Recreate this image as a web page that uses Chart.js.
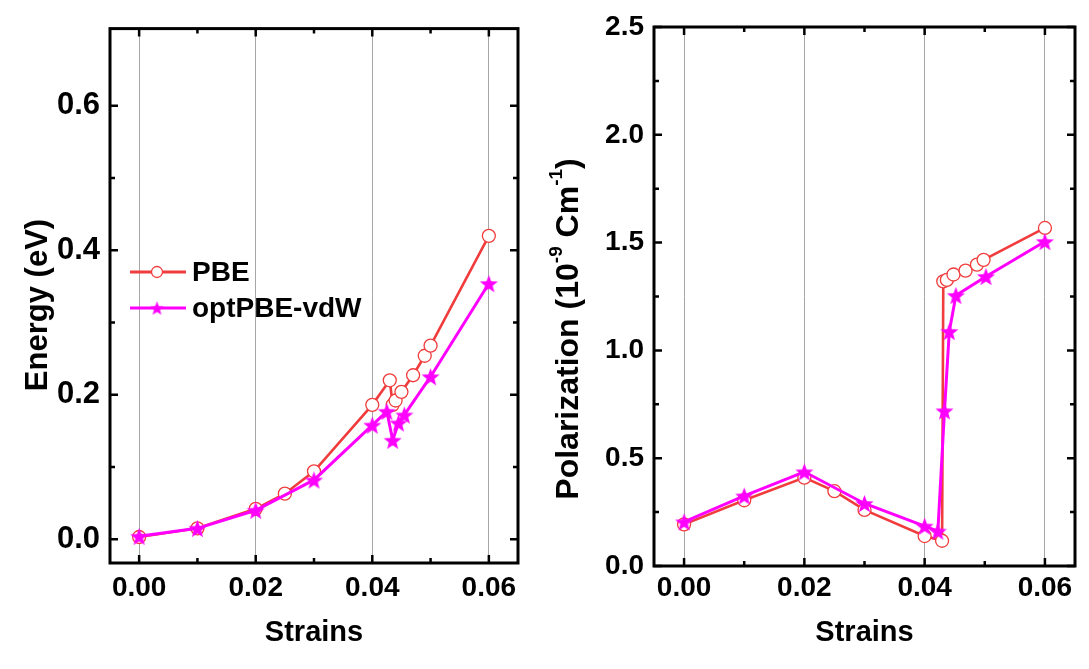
<!DOCTYPE html>
<html>
<head>
<meta charset="utf-8">
<script src="https://cdn.jsdelivr.net/npm/chart.js@4.4.1/dist/chart.umd.min.js"></script>
<style>
  html, body { margin: 0; padding: 0; background: #fff; }
  #wrap { position: relative; width: 1089px; height: 669px; overflow: hidden; }
  canvas { position: absolute; top: 0; }
  #energy { left: 0; }
  #polar { left: 540px; }
</style>
</head>
<body>
<div id="wrap">
  <canvas id="energy" width="540" height="669"></canvas>
  <canvas id="polar" width="549" height="669"></canvas>
</div>
<script>
// ---- data ----
const seriesNames = ['PBE', 'optPBE-vdW'];

const energyPbeStrain = [0, 0.01, 0.02, 0.025, 0.03, 0.04, 0.043, 0.0435, 0.044, 0.045, 0.047, 0.049, 0.05, 0.06];
const energyPbe       = [0.003, 0.015, 0.042, 0.063, 0.094, 0.186, 0.220, 0.186, 0.192, 0.204, 0.227, 0.254, 0.268, 0.420];
const energyVdwStrain = [0, 0.01, 0.02, 0.03, 0.04, 0.0425, 0.0435, 0.0445, 0.0455, 0.05, 0.06];
const energyVdw       = [0.004, 0.015, 0.040, 0.082, 0.158, 0.177, 0.137, 0.161, 0.172, 0.225, 0.354];

const polPbeStrain = [0, 0.01, 0.02, 0.025, 0.03, 0.04, 0.0429, 0.0431, 0.0437, 0.0448, 0.0468, 0.0487, 0.0498, 0.06];
const polPbe       = [0.193, 0.305, 0.410, 0.347, 0.260, 0.139, 0.117, 1.320, 1.327, 1.352, 1.370, 1.398, 1.420, 1.568];
const polVdwStrain = [0, 0.01, 0.02, 0.03, 0.04, 0.0422, 0.0433, 0.0441, 0.0452, 0.0502, 0.06];
const polVdw       = [0.205, 0.325, 0.437, 0.290, 0.185, 0.162, 0.720, 1.088, 1.255, 1.343, 1.505];

const xTickValues = [0, 0.01, 0.02, 0.03, 0.04, 0.05, 0.06];
const energyTickValues = [0, 0.1, 0.2, 0.3, 0.4, 0.5, 0.6];
const polTickValues = [0, 0.25, 0.5, 0.75, 1.0, 1.25, 1.5, 1.75, 2.0, 2.25, 2.5];

const RED = '#f03c3c';
const MAGENTA = '#ff00ff';
const FONT = "'Liberation Sans', Arial, sans-serif";

function points(xs, ys) {
  return xs.map((x, i) => ({ x: x, y: ys[i] }));
}

function makeStar(r, color) {
  const c = document.createElement('canvas');
  const s = Math.ceil(r * 2 + 2);
  c.width = s; c.height = s;
  const ctx = c.getContext('2d');
  ctx.translate(s / 2, s / 2 + r * 0.1);
  ctx.beginPath();
  for (let i = 0; i < 10; i++) {
    const rad = i % 2 === 0 ? r : r * 0.42;
    const a = -Math.PI / 2 + i * Math.PI / 5;
    ctx.lineTo(rad * Math.cos(a), rad * Math.sin(a));
  }
  ctx.closePath();
  ctx.fillStyle = color;
  ctx.fill();
  return c;
}

const star = makeStar(9.5, MAGENTA);
const smallStar = makeStar(7.5, MAGENTA);

function isMajor(v, per) {
  return Math.round(v * per) % 2 === 0;
}

// frame with inward ticks on all four sides
const framePlugin = {
  id: 'frame',
  afterDraw(chart, args, opts) {
    const { ctx, chartArea: a } = chart;
    const xs = chart.scales.x, ys = chart.scales.y;
    ctx.save();
    ctx.strokeStyle = '#000';
    ctx.lineWidth = 2.5;
    xs.ticks.forEach(t => {
      const px = xs.getPixelForValue(t.value);
      const len = isMajor(t.value, 100) ? 8 : 5;
      ctx.beginPath();
      ctx.moveTo(px, a.bottom); ctx.lineTo(px, a.bottom - len);
      ctx.moveTo(px, a.top); ctx.lineTo(px, a.top + len);
      ctx.stroke();
    });
    ys.ticks.forEach(t => {
      const py = ys.getPixelForValue(t.value);
      const len = isMajor(t.value, opts.yPer) ? 8 : 5;
      ctx.beginPath();
      ctx.moveTo(a.left, py); ctx.lineTo(a.left + len, py);
      ctx.moveTo(a.right, py); ctx.lineTo(a.right - len, py);
      ctx.stroke();
    });
    ctx.lineWidth = 3;
    ctx.strokeRect(a.left, a.top, a.right - a.left, a.bottom - a.top);
    ctx.restore();
  }
};

// rotated y title with optional superscripts
const yTitlePlugin = {
  id: 'yTitle',
  afterDraw(chart, args, opts) {
    const ctx = chart.ctx;
    ctx.save();
    ctx.translate(opts.x, opts.y);
    ctx.rotate(-Math.PI / 2);
    ctx.fillStyle = '#000';
    ctx.textBaseline = 'middle';
    ctx.textAlign = 'left';
    const main = 'bold ' + opts.size + 'px ' + FONT;
    const sup = 'bold ' + Math.round(opts.size * 0.58) + 'px ' + FONT;
    let total = 0;
    opts.parts.forEach(p => { ctx.font = p.sup ? sup : main; total += ctx.measureText(p.t).width; });
    let x = -total / 2;
    opts.parts.forEach(p => {
      ctx.font = p.sup ? sup : main;
      ctx.fillText(p.t, x, p.sup ? -opts.size * 0.38 : 0);
      x += ctx.measureText(p.t).width;
    });
    ctx.restore();
  }
};

// legend inside the energy panel: line + marker + label
const legendPlugin = {
  id: 'lineLegend',
  afterDraw(chart, args, opts) {
    if (!opts.show) return;
    const ctx = chart.ctx;
    ctx.save();
    const rows = [
      { y: 272, color: RED, name: seriesNames[0], marker: 'circle' },
      { y: 308, color: MAGENTA, name: seriesNames[1], marker: 'star' }
    ];
    rows.forEach(r => {
      ctx.strokeStyle = r.color;
      ctx.lineWidth = 3;
      ctx.beginPath();
      ctx.moveTo(130, r.y); ctx.lineTo(186, r.y);
      ctx.stroke();
      if (r.marker === 'circle') {
        ctx.beginPath();
        ctx.arc(157, r.y, 5.5, 0, Math.PI * 2);
        ctx.fillStyle = '#fff';
        ctx.fill();
        ctx.lineWidth = 1.3;
        ctx.stroke();
      } else {
        ctx.drawImage(smallStar, 157 - smallStar.width / 2, r.y - smallStar.height / 2);
      }
      ctx.fillStyle = '#000';
      ctx.font = 'bold 28px ' + FONT;
      ctx.textBaseline = 'middle';
      ctx.fillText(r.name, 192, r.y + 1);
    });
    ctx.restore();
  }
};

function buildChart(id, pbe, vdw, yMin, yMax, yTicks, yPer, yWidth, xHeight, rightPad, title, showLegend, xTickPad, yFont) {
  return new Chart(document.getElementById(id), {
    type: 'line',
    data: {
      datasets: [
        {
          label: seriesNames[1],
          data: vdw,
          borderColor: MAGENTA,
          backgroundColor: MAGENTA,
          borderWidth: 3,
          pointStyle: star,
          pointRadius: 9,
          order: 0
        },
        {
          label: seriesNames[0],
          data: pbe,
          borderColor: RED,
          backgroundColor: '#fff',
          borderWidth: 2.6,
          pointStyle: 'circle',
          pointRadius: 6.5,
          pointBorderWidth: 1.3,
          order: 1
        }
      ]
    },
    options: {
      responsive: false,
      animation: false,
      devicePixelRatio: 1,
      layout: { padding: { top: 27, right: rightPad, left: 0, bottom: 0 } },
      plugins: {
        legend: { display: false },
        tooltip: { enabled: false },
        frame: { yPer: yPer },
        yTitle: title,
        lineLegend: { show: showLegend }
      },
      scales: {
        x: {
          type: 'linear',
          min: -0.005,
          max: 0.065,
          afterBuildTicks: s => { s.ticks = xTickValues.map(v => ({ value: v })); },
          afterFit: s => { s.height = xHeight; },
          grid: {
            drawTicks: false,
            color: c => isMajor(c.tick.value, 100) ? '#a6a6a6' : 'rgba(0,0,0,0)',
            lineWidth: 1
          },
          border: { display: false },
          ticks: {
            autoSkip: false,
            maxRotation: 0,
            padding: xTickPad,
            color: '#000',
            font: { family: FONT, size: 28, weight: 'bold' },
            callback: v => isMajor(v, 100) ? v.toFixed(2) : ''
          },
          title: {
            display: true,
            text: 'Strains',
            color: '#000',
            font: { family: FONT, size: 29, weight: 'bold' },
            padding: { top: 0, bottom: 19 }
          }
        },
        y: {
          type: 'linear',
          min: yMin,
          max: yMax,
          afterBuildTicks: s => { s.ticks = yTicks.map(v => ({ value: v })); },
          afterFit: s => { s.width = yWidth; },
          grid: { display: false, drawTicks: false },
          border: { display: false },
          ticks: {
            autoSkip: false,
            padding: 10,
            color: '#000',
            font: { family: FONT, size: yFont, weight: 'bold' },
            callback: v => isMajor(v, yPer) ? v.toFixed(1) : ''
          }
        }
      }
    },
    plugins: [framePlugin, yTitlePlugin, legendPlugin]
  });
}

buildChart('energy',
  points(energyPbeStrain, energyPbe), points(energyVdwStrain, energyVdw),
  -0.033, 0.707, energyTickValues, 10, 110, 106, 22,
  { x: 38, y: 305, size: 31, parts: [{ t: 'Energy (eV)' }] },
  true, 8, 31);

buildChart('polar',
  points(polPbeStrain, polPbe), points(polVdwStrain, polVdw),
  0, 2.5, polTickValues, 4, 114, 103, 14,
  { x: 29, y: 329, size: 32, parts: [
      { t: 'Polarization (10' }, { t: '-9', sup: true }, { t: ' Cm' }, { t: '-1', sup: true }, { t: ')' }
  ] },
  false, 5, 28);
</script>
</body>
</html>
